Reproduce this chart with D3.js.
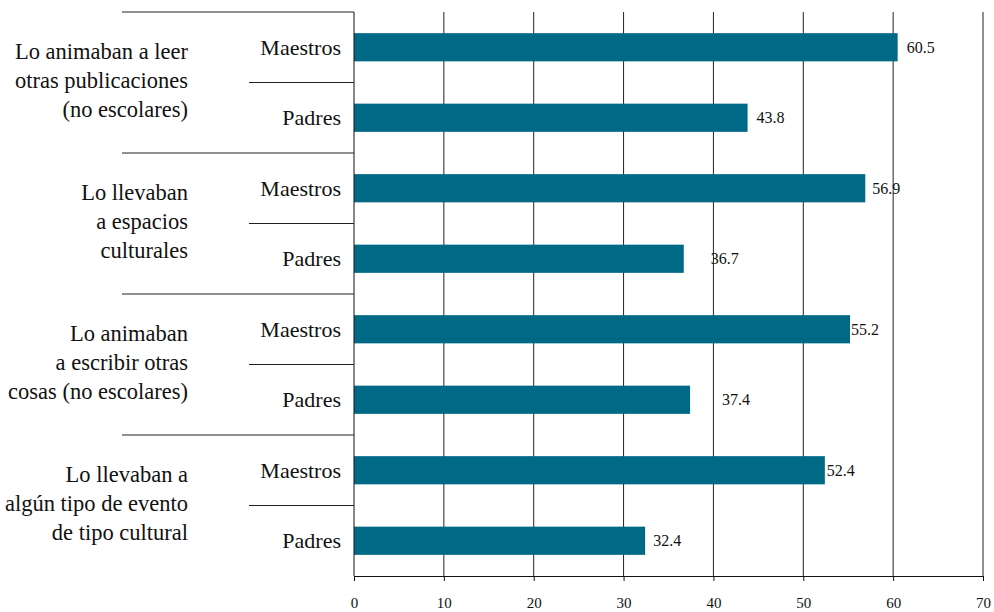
<!DOCTYPE html>
<html>
<head>
<meta charset="utf-8">
<script src="https://cdn.jsdelivr.net/npm/d3@7"></script>
<style>
  body { margin: 0; background: #fff; }
</style>
</head>
<body>
<div id="chart"></div>
<script>
// Datos
const groups = [
  ["Lo animaban a leer", "otras publicaciones", "(no escolares)"],
  ["Lo llevaban", "a espacios", "culturales"],
  ["Lo animaban", "a escribir otras", "cosas (no escolares)"],
  ["Lo llevaban a", "algún tipo de evento", "de tipo cultural"]
];
const series = ["Maestros", "Padres"];
const maestros = [60.5, 56.9, 55.2, 52.4];
const padres = [43.8, 36.7, 37.4, 32.4];
const ticks = [0, 10, 20, 30, 40, 50, 60, 70];

// petits décalages des étiquettes comme dans l'original
const labelNudge = [9, 9, 7, 27, 1, 32, 2, 8];

const width = 994, height = 612;
const mLeft = 354, mRight = 983, mTop = 12, mBottom = 576;
const groupLeft = 122, subLeft = 249;
const color = '#006a86';
const font = '"Liberation Serif", "Times New Roman", serif';

const svg = d3.select('#chart').append('svg')
  .attr('width', width)
  .attr('height', height)
  .style('font-family', font);

const rows = [];
groups.forEach((g, i) => {
  rows.push({ key: i + '-0', group: i, sub: series[0], value: maestros[i] });
  rows.push({ key: i + '-1', group: i, sub: series[1], value: padres[i] });
});

const x = d3.scaleLinear().domain([0, 70]).range([mLeft, mRight]);
const y = d3.scaleBand().domain(rows.map(d => d.key)).range([mTop, mBottom]).paddingInner(0.6).paddingOuter(0.3);
const yg = d3.scaleBand().domain(groups.map((g, i) => i)).range([mTop, mBottom]);

// Grille verticale
svg.append('g')
  .selectAll('line')
  .data(ticks.slice(1))
  .join('line')
  .attr('x1', d => x(d)).attr('x2', d => x(d))
  .attr('y1', mTop).attr('y2', mBottom)
  .attr('stroke', '#222')
  .attr('stroke-width', 1);

// Axe X
const xAxis = svg.append('g')
  .attr('transform', `translate(0,${mBottom})`)
  .call(d3.axisBottom(x).tickValues(ticks).tickSize(5).tickPadding(16));
xAxis.attr('font-family', null);
xAxis.select('.domain').attr('stroke', '#111');
xAxis.selectAll('.tick line').attr('stroke', '#111');
xAxis.selectAll('.tick text')
  .style('font-family', font)
  .style('font-size', '15px')
  .attr('fill', '#111');

// Barres
svg.append('g')
  .selectAll('rect')
  .data(rows)
  .join('rect')
  .attr('x', x(0))
  .attr('y', d => y(d.key))
  .attr('width', d => x(d.value) - x(0))
  .attr('height', y.bandwidth())
  .attr('fill', color);

// Étiquettes de valeur
svg.append('g')
  .selectAll('text')
  .data(rows)
  .join('text')
  .attr('x', (d, i) => x(d.value) + labelNudge[i])
  .attr('y', d => y(d.key) + y.bandwidth() / 2)
  .attr('dy', '0.35em')
  .attr('fill', '#111')
  .style('font-family', font)
  .style('font-size', '16px')
  .text(d => d.value.toFixed(1));

// Axe vertical
svg.append('line')
  .attr('x1', mLeft).attr('x2', mLeft)
  .attr('y1', mTop).attr('y2', mBottom)
  .attr('stroke', '#111');

// Séparateurs de groupes
svg.append('g')
  .selectAll('line')
  .data(groups.map((g, i) => i))
  .join('line')
  .attr('x1', groupLeft).attr('x2', mLeft)
  .attr('y1', d => yg(d)).attr('y2', d => yg(d))
  .attr('stroke', '#222');

// Séparateurs Maestros / Padres
svg.append('g')
  .selectAll('line')
  .data(groups.map((g, i) => i))
  .join('line')
  .attr('x1', subLeft).attr('x2', mLeft)
  .attr('y1', d => yg(d) + yg.bandwidth() / 2).attr('y2', d => yg(d) + yg.bandwidth() / 2)
  .attr('stroke', '#222');

// Étiquettes Maestros / Padres
svg.append('g')
  .selectAll('text')
  .data(rows)
  .join('text')
  .attr('x', 341)
  .attr('y', d => y(d.key) + y.bandwidth() / 2)
  .attr('dy', '0.35em')
  .attr('text-anchor', 'end')
  .attr('fill', '#111')
  .style('font-family', font)
  .style('font-size', '22px')
  .text(d => d.sub);

// Étiquettes de groupes
const gl = svg.append('g')
  .selectAll('text')
  .data(groups)
  .join('text')
  .attr('text-anchor', 'end')
  .attr('fill', '#111')
  .style('font-family', font)
  .style('font-size', '22.5px')
  .attr('transform', (d, i) => `translate(188,${yg(i) + yg.bandwidth() / 2 - 2})`);

gl.selectAll('tspan')
  .data(d => d)
  .join('tspan')
  .attr('x', 0)
  .attr('y', (d, j, arr) => (j - (arr.length - 1) / 2) * 29)
  .attr('dy', '0.35em')
  .text(d => d);
</script>
</body>
</html>
